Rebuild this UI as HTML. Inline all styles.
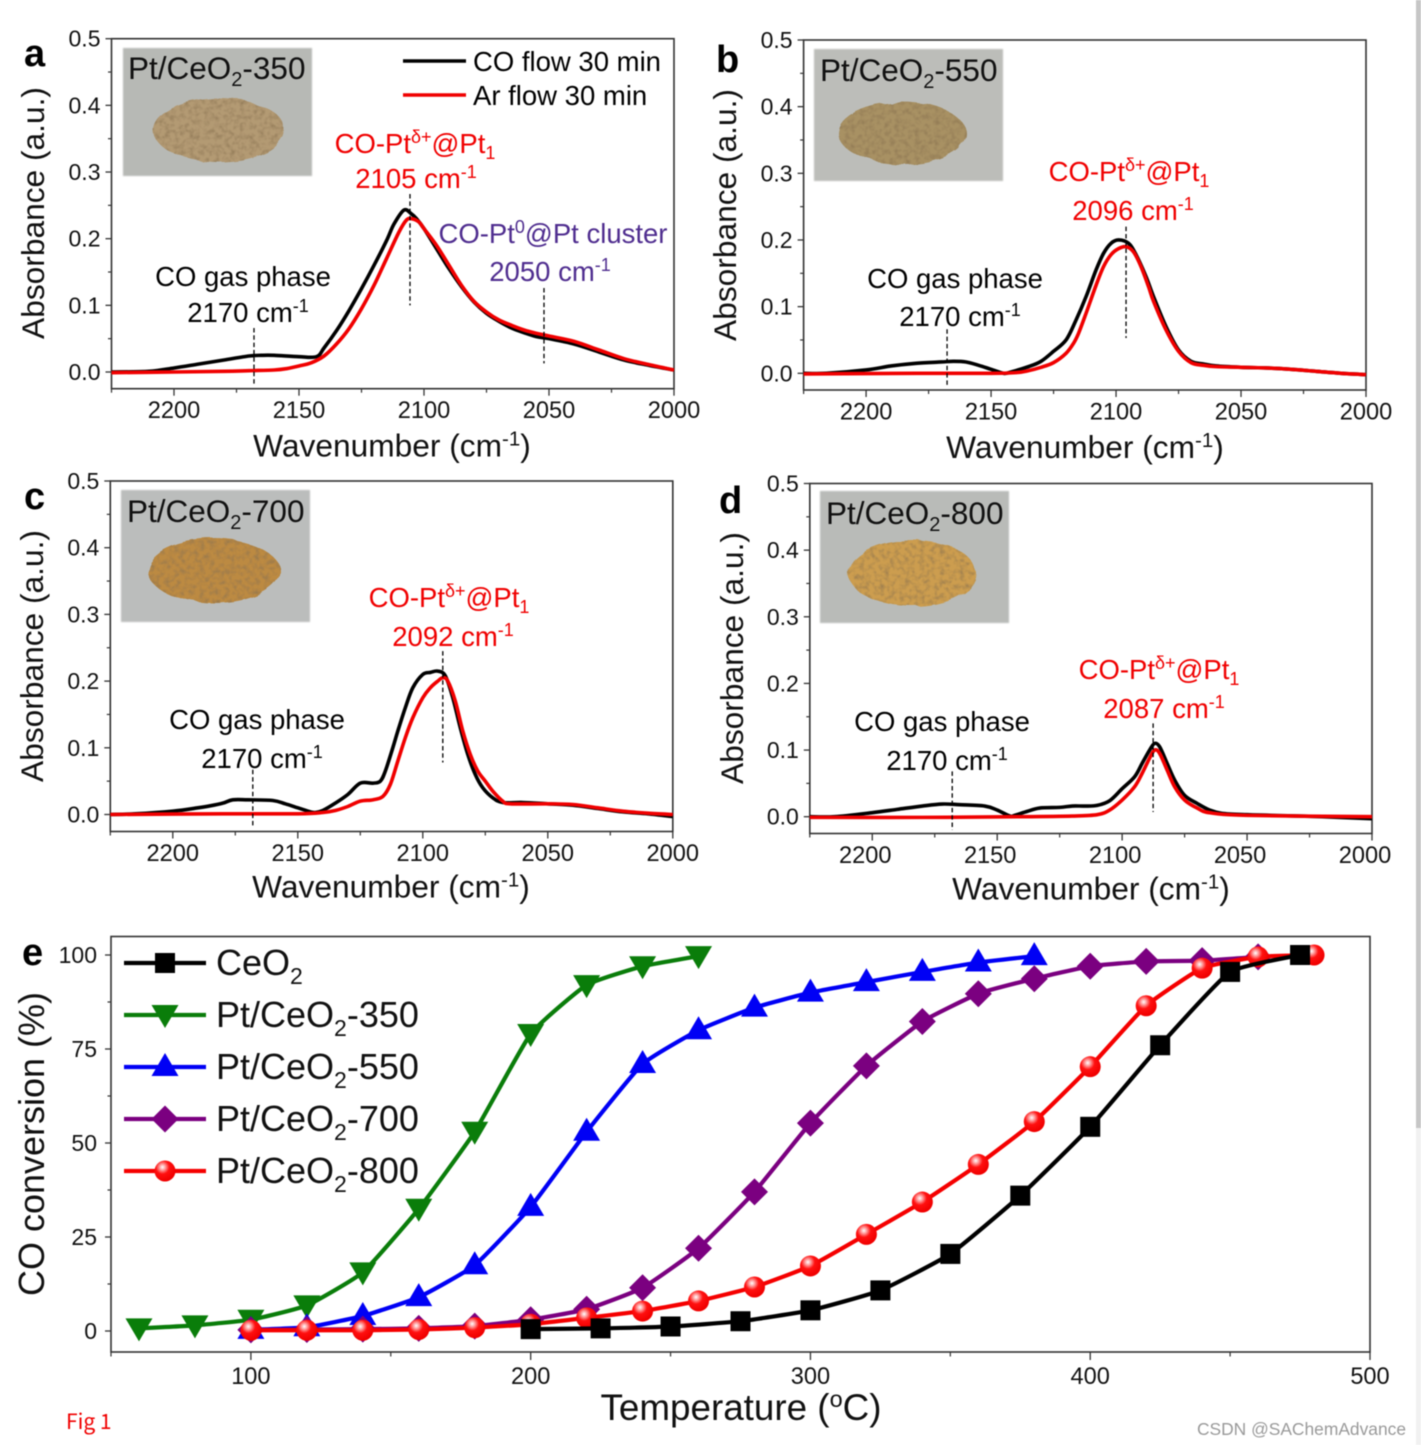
<!DOCTYPE html>
<html lang="en">
<head>
<meta charset="utf-8">
<title>Fig 1</title>
<style>
html,body{margin:0;padding:0;background:#fff;width:1421px;height:1445px;overflow:hidden}
svg{display:block;position:absolute;left:0;top:0;font-family:"Liberation Sans",Arial,sans-serif;filter:blur(.4px)}
</style>
</head>
<body>
<svg id="fig" width="1421" height="1445" viewBox="0 0 1421 1445" xmlns="http://www.w3.org/2000/svg">
<defs>
<filter id="powder" x="-15%" y="-15%" width="130%" height="130%">
<feTurbulence type="fractalNoise" baseFrequency=".04" numOctaves="3" seed="4" result="n"/>
<feDisplacementMap in="SourceGraphic" in2="n" scale="7" result="d"/>
<feTurbulence type="fractalNoise" baseFrequency=".2" numOctaves="2" seed="8" result="g"/>
<feColorMatrix in="g" type="matrix" values="0 0 0 0 .25 0 0 0 0 .17 0 0 0 0 .08 1.5 0 0 0 -.62" result="s"/>
<feComposite in="s" in2="d" operator="in" result="t"/>
<feMerge><feMergeNode in="d"/><feMergeNode in="t"/></feMerge>
</filter>
<filter id="soft" x="-3%" y="-3%" width="106%" height="106%"><feGaussianBlur stdDeviation=".9"/></filter>
<radialGradient id="ball" cx=".38" cy=".32" r=".65">
<stop offset="0" stop-color="#fff"/><stop offset=".22" stop-color="#ff9a9a"/><stop offset=".5" stop-color="#ff1010"/><stop offset="1" stop-color="#f00000"/>
</radialGradient>
</defs>

<rect x="1416" y="0" width="5" height="1445" fill="#f1f1f1"/>
<rect x="1416" y="0" width="5" height="1128" fill="#c6c6c6"/>

<!-- insets -->
<g>
<rect x="123" y="48" width="189" height="128" fill="#b7b9b5" filter="url(#soft)"/>
<ellipse cx="219" cy="130" rx="66" ry="32" fill="#b39a73" filter="url(#powder)"/>
</g>
<g>
<rect x="814" y="49" width="189" height="132" fill="#bcbdb9" filter="url(#soft)"/>
<ellipse cx="902" cy="133" rx="64" ry="31" fill="#a89163" filter="url(#powder)"/>
</g>
<g>
<rect x="121" y="490" width="189" height="132" fill="#bbbdbc" filter="url(#soft)"/>
<ellipse cx="214" cy="571" rx="66" ry="32" fill="#bc8a42" filter="url(#powder)"/>
</g>
<g>
<rect x="820" y="491" width="189" height="132" fill="#b9bbb8" filter="url(#soft)"/>
<ellipse cx="912" cy="573" rx="64" ry="33" fill="#cc9d4f" filter="url(#powder)"/>
</g>

<g id="plots"></g>

<!-- panel letters -->
<g font-weight="bold" font-size="38" fill="#000">
<text x="24" y="66">a</text>
<text x="716" y="72">b</text>
<text x="24" y="509">c</text>
<text x="719" y="513">d</text>
<text x="22" y="965">e</text>
</g>

<!-- inset titles -->
<g font-size="31.5" fill="#111">
<text x="128" y="79">Pt/CeO<tspan font-size="20" baseline-shift="-7">2</tspan>-350</text>
<text x="820" y="81">Pt/CeO<tspan font-size="20" baseline-shift="-7">2</tspan>-550</text>
<text x="127" y="522">Pt/CeO<tspan font-size="20" baseline-shift="-7">2</tspan>-700</text>
<text x="826" y="524">Pt/CeO<tspan font-size="20" baseline-shift="-7">2</tspan>-800</text>
</g>

<!-- panel a legend -->
<line x1="403" y1="61" x2="466" y2="61" stroke="#000" stroke-width="3.6"/>
<line x1="403" y1="95" x2="466" y2="95" stroke="#f00000" stroke-width="3.6"/>
<text x="473" y="71" font-size="27.5">CO flow 30 min</text>
<text x="473" y="105" font-size="27.5">Ar flow 30 min</text>

<!-- annotations -->
<g font-size="27.5" fill="#000" text-anchor="middle">
<text x="243" y="286">CO gas phase</text>
<text x="248" y="322">2170 cm<tspan font-size="18" baseline-shift="10">-1</tspan></text>
<text x="955" y="288">CO gas phase</text>
<text x="960" y="326">2170 cm<tspan font-size="18" baseline-shift="10">-1</tspan></text>
<text x="257" y="729">CO gas phase</text>
<text x="262" y="768">2170 cm<tspan font-size="18" baseline-shift="10">-1</tspan></text>
<text x="942" y="731">CO gas phase</text>
<text x="947" y="770">2170 cm<tspan font-size="18" baseline-shift="10">-1</tspan></text>
</g>
<g font-size="27.5" fill="#f00000" text-anchor="middle">
<text x="415" y="153">CO-Pt<tspan font-size="18" baseline-shift="10">δ+</tspan>@Pt<tspan font-size="18" baseline-shift="-6">1</tspan></text>
<text x="416" y="188">2105 cm<tspan font-size="18" baseline-shift="10">-1</tspan></text>
<text x="1129" y="181">CO-Pt<tspan font-size="18" baseline-shift="10">δ+</tspan>@Pt<tspan font-size="18" baseline-shift="-6">1</tspan></text>
<text x="1133" y="220">2096 cm<tspan font-size="18" baseline-shift="10">-1</tspan></text>
<text x="449" y="607">CO-Pt<tspan font-size="18" baseline-shift="10">δ+</tspan>@Pt<tspan font-size="18" baseline-shift="-6">1</tspan></text>
<text x="453" y="646">2092 cm<tspan font-size="18" baseline-shift="10">-1</tspan></text>
<text x="1159" y="679">CO-Pt<tspan font-size="18" baseline-shift="10">δ+</tspan>@Pt<tspan font-size="18" baseline-shift="-6">1</tspan></text>
<text x="1164" y="718">2087 cm<tspan font-size="18" baseline-shift="10">-1</tspan></text>
</g>
<g font-size="27.5" fill="#4f2d8f" text-anchor="middle">
<text x="553" y="243">CO-Pt<tspan font-size="18" baseline-shift="10">0</tspan>@Pt cluster</text>
<text x="550" y="281">2050 cm<tspan font-size="18" baseline-shift="10">-1</tspan></text>
</g>

<!-- panel e legend -->
<g font-size="36" fill="#111">
<text x="216" y="975">CeO<tspan font-size="23" baseline-shift="-9">2</tspan></text>
<text x="216" y="1027">Pt/CeO<tspan font-size="23" baseline-shift="-9">2</tspan>-350</text>
<text x="216" y="1079">Pt/CeO<tspan font-size="23" baseline-shift="-9">2</tspan>-550</text>
<text x="216" y="1131">Pt/CeO<tspan font-size="23" baseline-shift="-9">2</tspan>-700</text>
<text x="216" y="1183">Pt/CeO<tspan font-size="23" baseline-shift="-9">2</tspan>-800</text>
</g>

<text x="66" y="1429" font-size="21" fill="#f00000" style="font-family:'Noto Sans CJK SC','Liberation Sans',sans-serif">Fig 1</text>
<text x="1406" y="1435" font-size="17.4" fill="#9a9a9a" text-anchor="end">CSDN @SAChemAdvance</text>
</svg>

<script>
// ---------- Panel a ----------
const aCoWave=[2225,2210,2200,2190,2180,2170,2165,2160,2150,2143,2140,2135,2130,2125,2120,2115,2112,2108,2105,2103,2100,2095,2090,2085,2080,2075,2070,2065,2060,2055,2050,2040,2030,2020,2010,2000];
const aCoAbs=[0,.001,.006,.012,.018,.024,.025,.025,.023,.023,.036,.062,.092,.125,.16,.197,.222,.243,.237,.23,.215,.185,.155,.128,.105,.088,.076,.066,.059,.053,.05,.042,.03,.018,.01,.003];
const aArWave=[2225,2200,2180,2170,2160,2155,2150,2145,2140,2135,2130,2125,2120,2115,2110,2107,2105,2102,2100,2095,2090,2085,2080,2075,2070,2065,2060,2055,2050,2040,2030,2020,2010,2000];
const aArAbs=[-.001,0,.001,.002,.003,.005,.009,.014,.024,.042,.065,.095,.13,.17,.21,.228,.23,.225,.215,.19,.16,.13,.106,.09,.078,.07,.063,.058,.054,.046,.033,.02,.011,.003];
// ---------- Panel b ----------
const bCoWave=[2225,2216,2200,2190,2180,2170,2165,2160,2155,2150,2145,2142,2135,2130,2125,2120,2116,2112,2108,2105,2102,2099,2095,2092,2088,2085,2080,2075,2070,2065,2060,2050,2040,2030,2020,2010,2000];
const bCoAbs=[0,0,.005,.011,.015,.017,.018,.017,.012,.006,0,.002,.01,.018,.033,.05,.08,.115,.155,.18,.195,.2,.195,.178,.145,.115,.07,.035,.018,.014,.011,.009,.008,.006,.003,0,-.002];
const bArWave=[2225,2180,2150,2140,2135,2130,2125,2120,2117,2115,2112,2108,2105,2102,2099,2096,2093,2090,2087,2085,2080,2075,2070,2065,2060,2050,2040,2030,2020,2010,2000];
const bArAbs=[-.001,0,0,.001,.004,.009,.016,.03,.045,.06,.09,.132,.16,.178,.187,.19,.182,.16,.13,.108,.065,.033,.016,.012,.01,.009,.008,.006,.003,0,-.002];
// ---------- Panel c ----------
const cCoWave=[2225,2215,2200,2190,2185,2180,2176,2170,2160,2155,2150,2145,2143,2140,2135,2130,2125,2120,2117,2115,2112,2110,2107,2104,2100,2097,2094,2091,2088,2085,2082,2079,2076,2072,2068,2060,2050,2040,2030,2020,2010,2000];
const cCoAbs=[0,.001,.005,.01,.013,.017,.022,.022,.021,.016,.01,.004,.003,.006,.017,.03,.047,.047,.05,.065,.1,.125,.16,.19,.21,.213,.215,.208,.175,.13,.09,.06,.04,.025,.018,.018,.016,.014,.009,.004,.001,-.003];
const cArWave=[2225,2180,2150,2140,2135,2130,2125,2120,2116,2113,2110,2107,2104,2100,2097,2094,2092,2090,2087,2084,2081,2078,2075,2072,2068,2065,2050,2040,2030,2020,2010,2000];
const cArAbs=[0,.001,.001,.003,.006,.012,.02,.022,.027,.045,.08,.115,.145,.175,.19,.2,.205,.2,.17,.125,.09,.065,.05,.035,.02,.016,.016,.015,.01,.005,.002,0];
// ---------- Panel d ----------
const dCoWave=[2225,2215,2200,2190,2180,2172,2165,2155,2150,2145,2143,2138,2133,2125,2120,2115,2110,2105,2100,2095,2092,2089,2087,2085,2082,2079,2075,2070,2065,2060,2050,2040,2020,2000];
const dCoAbs=[0,0,.006,.011,.016,.019,.018,.016,.01,.001,.002,.008,.013,.014,.016,.016,.017,.024,.042,.06,.08,.1,.11,.105,.08,.055,.032,.02,.01,.005,.003,.002,0,-.003];
const dArWave=[2225,2180,2140,2120,2110,2105,2100,2095,2092,2089,2087,2085,2082,2079,2075,2070,2065,2050,2000];
const dArAbs=[-.001,-.001,0,.001,.003,.01,.025,.045,.065,.088,.1,.095,.07,.045,.025,.013,.006,.002,0];
// ---------- Panel a-d axis ticks ----------
const wavenumberMajorTicks=[2200,2150,2100,2050,2000];
const wavenumberMinorTicks=[2225,2175,2125,2075,2025];
const absorbanceMajorTicks=[0,.1,.2,.3,.4,.5];
const absorbanceMinorTicks=[.05,.15,.25,.35,.45];
// ---------- Panel e ----------
const ceo2Temp=[200,225,250,275,300,325,350,375,400,425,450,475];
const ceo2Conv=[.5,.7,1.2,2.6,5.5,10.8,20.5,36,54.3,76,95.5,100];
const pt350Temp=[60,80,100,120,140,160,180,200,220,240,260];
const pt350Conv=[.7,1.5,3,6.8,15.6,32.5,53,79,92,97,99.7];
const pt550Temp=[100,120,140,160,180,200,220,240,260,280,300,320,340,360,380];
const pt550Conv=[.3,1,4,9,17.5,33,53,71,80,86,90,92.8,95.5,98,99.7];
const pt700Temp=[100,120,140,160,180,200,220,240,260,280,300,320,340,360,380,400,420,440,460];
const pt700Conv=[.3,.4,.5,.7,1.3,3,5.8,11.5,22,37,55.3,70.5,82.3,89.7,93.7,97,98.3,98.5,99.5];
const pt800Temp=[100,120,140,160,180,200,220,240,260,280,300,320,340,360,380,400,420,440,460,480];
const pt800Conv=[.2,.2,.2,.4,.9,1.8,3.5,5.3,8,11.7,17.3,25.7,34.3,44.3,55.7,70.3,86.5,96.5,99.5,100];
const tempMajorTicks=[100,200,300,400,500];
const tempMinorTicks=[50,150,250,350,450];
const convMajorTicks=[0,25,50,75,100];
const convMinorTicks=[12.5,37.5,62.5,87.5];

const NS='http://www.w3.org/2000/svg';
const plots=document.getElementById('plots');
function mk(tag,attrs,parent){
  const n=document.createElementNS(NS,tag);
  for(const k in attrs)n.setAttribute(k,attrs[k]);
  parent.appendChild(n);
  return n;
}
function smoothPath(pts,k){
  let d='M'+pts[0][0].toFixed(2)+' '+pts[0][1].toFixed(2);
  for(let i=0;i<pts.length-1;i++){
    const p0=pts[Math.max(i-1,0)],p1=pts[i],p2=pts[i+1],p3=pts[Math.min(i+2,pts.length-1)];
    const c1x=p1[0]+(p2[0]-p0[0])/k,c1y=p1[1]+(p2[1]-p0[1])/k;
    const c2x=p2[0]-(p3[0]-p1[0])/k,c2y=p2[1]-(p3[1]-p1[1])/k;
    d+='C'+c1x.toFixed(2)+' '+c1y.toFixed(2)+' '+c2x.toFixed(2)+' '+c2y.toFixed(2)+' '+p2[0].toFixed(2)+' '+p2[1].toFixed(2);
  }
  return d;
}
function drawSpectrumPanel(c){
  const g=mk('g',{},plots);
  
  
  const x=w=>c.left+(2225-w)*(c.right-c.left)/225;
  const y=a=>c.y0-a*(c.y0-c.top)/.5;
  const frame=mk('rect',{x:c.left,y:c.top,width:c.right-c.left,height:c.bottom-c.top,fill:'none',stroke:'#333','stroke-width':1.6},g);
  
  
  wavenumberMajorTicks.forEach(t=>{
    const m=mk('line',{x1:x(t),x2:x(t),y1:c.bottom,y2:c.bottom+7,stroke:'#333','stroke-width':1.3},g);
    
    
    const l=mk('text',{x:x(t)+c.labelShift,y:c.bottom+29.5,'font-size':23.6,'text-anchor':'middle',fill:'#111'},g);
    l.textContent=String(t);
    
    
  });
  wavenumberMinorTicks.forEach(t=>{
    const m=mk('line',{x1:x(t),x2:x(t),y1:c.bottom,y2:c.bottom+4,stroke:'#333','stroke-width':1.2},g);
    
    
  });
  absorbanceMajorTicks.forEach(t=>{
    const m=mk('line',{x1:c.left-6,x2:c.left,y1:y(t),y2:y(t),stroke:'#333','stroke-width':1.3},g);
    
    
    const l=mk('text',{x:c.left-11,y:y(t)+8,'font-size':23,'text-anchor':'end',fill:'#111'},g);
    l.textContent=t.toFixed(1);
    
    
  });
  absorbanceMinorTicks.forEach(t=>{
    const m=mk('line',{x1:c.left-3.5,x2:c.left,y1:y(t),y2:y(t),stroke:'#333','stroke-width':1.2},g);
    
    
  });
  const co=mk('path',{d:smoothPath(c.coWave.map((w,i)=>[x(w),y(c.coAbs[i])]),6),fill:'none',stroke:'#000','stroke-width':3.6,'stroke-linejoin':'round'},g);
  
  
  const ar=mk('path',{d:smoothPath(c.arWave.map((w,i)=>[x(w),y(c.arAbs[i])]),6),fill:'none',stroke:'#f00000','stroke-width':3.6,'stroke-linejoin':'round'},g);
  
  
  c.dashes.forEach(dsh=>{
    const m=mk('line',{x1:x(dsh[0]),x2:x(dsh[0]),y1:y(dsh[1]),y2:y(dsh[2]),stroke:'#000','stroke-width':1.3,'stroke-dasharray':'4.5 2.8'},g);
    
    
  });
  const xt=mk('text',{x:c.xTitleX,y:c.bottom+c.xTitleDy,'font-size':31.7,'text-anchor':'middle',fill:'#111'},g);
  
  
  xt.appendChild(document.createTextNode('Wavenumber (cm'));
  const sup=mk('tspan',{'font-size':20.5,'baseline-shift':11},xt);
  sup.textContent='-1';
  xt.appendChild(document.createTextNode(')'));
  const yt=mk('text',{transform:'translate('+c.yTitleX+' '+c.yTitleY+') rotate(-90)','font-size':31.7,'text-anchor':'middle',fill:'#111'},g);
  yt.textContent='Absorbance (a.u.)';
  
  
}
drawSpectrumPanel({id:'a',left:111.5,right:674,top:38.7,y0:372,bottom:388.7,labelShift:0,xTitleX:392,xTitleDy:68,yTitleX:44,yTitleY:213,
  coWave:aCoWave,coAbs:aCoAbs,arWave:aArWave,arAbs:aArAbs,dashes:[[2168,.066,-.02],[2105.6,.267,.1],[2052,.126,.013]]});
drawSpectrumPanel({id:'b',left:803.6,right:1366,top:40,y0:373.3,bottom:390,labelShift:0,xTitleX:1085,xTitleDy:68,yTitleX:736,yTitleY:215,
  coWave:bCoWave,coAbs:bCoAbs,arWave:bArWave,arAbs:bArAbs,dashes:[[2167.6,.066,-.019],[2096,.22,.053]]});
drawSpectrumPanel({id:'c',left:110.3,right:672.8,top:481,y0:814.5,bottom:831.5,labelShift:0,xTitleX:391,xTitleDy:66,yTitleX:43,yTitleY:656,
  coWave:cCoWave,coAbs:cCoAbs,arWave:cArWave,arAbs:cArAbs,dashes:[[2168,.067,-.02],[2092,.245,.078]]});
drawSpectrumPanel({id:'d',left:809.8,right:1372,top:483.5,y0:816.7,bottom:833.5,labelShift:-7,xTitleX:1091,xTitleDy:66,yTitleX:743,yTitleY:658,
  coWave:dCoWave,coAbs:dCoAbs,arWave:dArWave,arAbs:dArAbs,dashes:[[2168,.068,-.02],[2087.6,.14,.007]]});

// ---------- Panel e drawing ----------
const eg=mk('g',{},plots);


const eLeft=111,eRight=1370,eTop=936.5,eBottom=1352;
const xT=t=>eLeft+(t-50)*(eRight-eLeft)/450;
const yC=v=>1331-v*3.76;
const eFrame=mk('rect',{x:eLeft,y:eTop,width:eRight-eLeft,height:eBottom-eTop,fill:'none',stroke:'#333','stroke-width':1.6},eg);


tempMajorTicks.forEach(t=>{
  const m=mk('line',{x1:xT(t),x2:xT(t),y1:eBottom,y2:eBottom+8,stroke:'#333','stroke-width':1.3},eg);
  
  
  const l=mk('text',{x:xT(t),y:1384,'font-size':23.6,'text-anchor':'middle',fill:'#111'},eg);
  l.textContent=String(t);
  
  
});
tempMinorTicks.forEach(t=>{
  const m=mk('line',{x1:xT(t),x2:xT(t),y1:eBottom,y2:eBottom+4.5,stroke:'#333','stroke-width':1.2},eg);
  
  
});
convMajorTicks.forEach(t=>{
  const m=mk('line',{x1:eLeft-6,x2:eLeft,y1:yC(t),y2:yC(t),stroke:'#333','stroke-width':1.3},eg);
  
  
  const l=mk('text',{x:97,y:yC(t)+8,'font-size':23,'text-anchor':'end',fill:'#111'},eg);
  l.textContent=String(t);
  
  
});
convMinorTicks.forEach(t=>{
  const m=mk('line',{x1:eLeft-3.5,x2:eLeft,y1:yC(t),y2:yC(t),stroke:'#333','stroke-width':1.2},eg);
  
  
});
function marker(kind,cx,cy,color,parent){
  let m;
  if(kind==='square')m=mk('rect',{x:cx-10,y:cy-10,width:20,height:20,fill:color},parent);
  if(kind==='down')m=mk('polygon',{points:(cx-13.5)+','+(cy-10)+' '+(cx+13.5)+','+(cy-10)+' '+cx+','+(cy+13),fill:color},parent);
  if(kind==='up')m=mk('polygon',{points:(cx-13.5)+','+(cy+9)+' '+(cx+13.5)+','+(cy+9)+' '+cx+','+(cy-14),fill:color},parent);
  if(kind==='diamond')m=mk('polygon',{points:cx+','+(cy-13.5)+' '+(cx+13.5)+','+cy+' '+cx+','+(cy+13.5)+' '+(cx-13.5)+','+cy,fill:color},parent);
  if(kind==='ball')m=mk('circle',{cx:cx,cy:cy,r:10.5,fill:'url(#ball)'},parent);
  return m;
}
function drawSeries(name,temps,convs,color,kind){
  const g=mk('g',{},eg);
  
  
  const p=mk('path',{d:smoothPath(temps.map((t,i)=>[xT(t),yC(convs[i])]),14),fill:'none',stroke:color,'stroke-width':4.2,'stroke-linejoin':'round'},g);
  
  
  temps.forEach((t,i)=>{
    const m=marker(kind,xT(t),yC(convs[i]),color,g);
    
    
  });
}
drawSeries('pt-ceo2-350',pt350Temp,pt350Conv,'#0a7d0a','down');
drawSeries('pt-ceo2-550',pt550Temp,pt550Conv,'#0000f5','up');
drawSeries('pt-ceo2-700',pt700Temp,pt700Conv,'#7b0080','diamond');
drawSeries('pt-ceo2-800',pt800Temp,pt800Conv,'#f50000','ball');
drawSeries('ceo2',ceo2Temp,ceo2Conv,'#000','square');

const eLegendColors=['#000','#0a7d0a','#0000f5','#7b0080','#f50000'];
const eLegendKinds=['square','down','up','diamond','ball'];
eLegendKinds.forEach((k,i)=>{
  const ly=963+i*52;
  const ln=mk('line',{x1:124,x2:206,y1:ly,y2:ly,stroke:eLegendColors[i],'stroke-width':4.2},eg);
  
  
  const m=marker(k,165,ly,eLegendColors[i],eg);
  
  
});
const eXT=mk('text',{x:741,y:1420,'font-size':36.8,'text-anchor':'middle',fill:'#111'},eg);


eXT.appendChild(document.createTextNode('Temperature ('));
const eSup=mk('tspan',{'font-size':23.5,'baseline-shift':13},eXT);
eSup.textContent='o';
eXT.appendChild(document.createTextNode('C)'));
const eYT=mk('text',{transform:'translate(44 1144) rotate(-90)','font-size':36,'text-anchor':'middle',fill:'#111'},eg);
eYT.textContent='CO conversion (%)';


</script>
</body>
</html>
